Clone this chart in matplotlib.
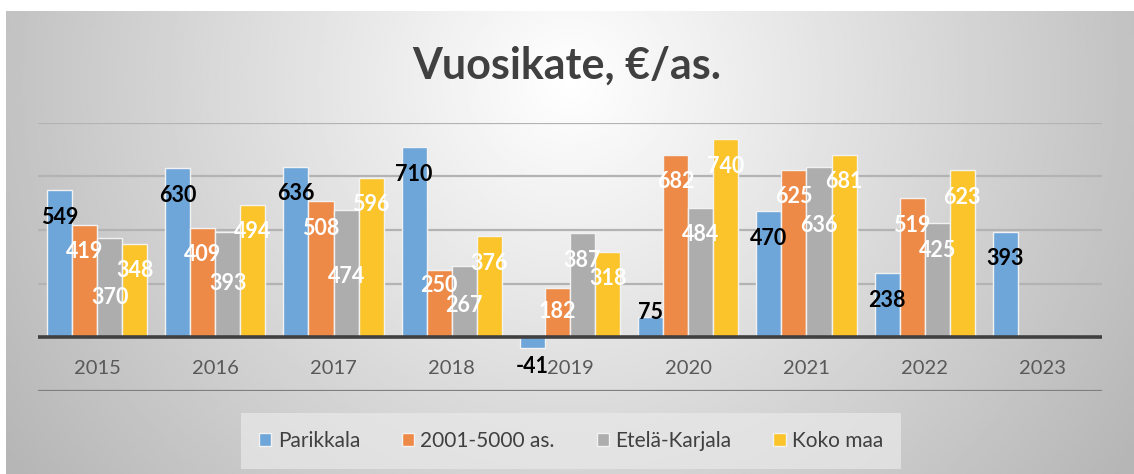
"""Vuosikate, €/as. -- grouped bar chart in an Excel-like style."""

import numpy as np
import matplotlib.pyplot as plt

years = ["2015", "2016", "2017", "2018", "2019", "2020", "2021", "2022", "2023"]
series_names = ["Parikkala", "2001-5000 as.", "Etelä-Karjala", "Koko maa"]
parikkala = [549, 630, 636, 710, -41, 75, 470, 238, 393]
kunnat_2001_5000 = [419, 409, 508, 250, 182, 682, 625, 519, None]
etela_karjala = [370, 393, 474, 267, 387, 484, 636, 425, None]
koko_maa = [348, 494, 596, 376, 318, 740, 681, 623, None]

colors = ["#6EA6D9", "#EE8A47", "#ADADAD", "#FBC42A"]
label_colors = ["black", "white", "white", "white"]

# label drop below the bar end in pixels (default 27), hand-placed ones below
DEFAULT_DROP = 27
drop_override = {
    (0, 4): 19, (0, 5): -4,
    (1, 3): 15, (1, 4): 23,
    (2, 0): 59, (2, 1): 52, (2, 2): 66, (2, 3): 40, (2, 6): 59,
}

W, H, DPI = 1134, 474, 100
fig = plt.figure(figsize=(W / DPI, H / DPI), dpi=DPI, facecolor="white")
plt.rcParams["font.family"] = ["Lato", "DejaVu Sans"]

# --- radial gray background of the chart area ---
bg = fig.add_axes([6 / W, 0, 1 - 6 / W, (H - 11) / H], zorder=0)
gx, gy = np.meshgrid(np.linspace(6, W, 400), np.linspace(11, H, 200))
r = np.sqrt(((gx - 570) / 570) ** 2 + ((gy - 80) / 560) ** 2)
shade = np.clip(1 - 0.24 * np.clip(r, 0, 1.2), 0, 1)
bg.imshow(shade, cmap="gray", vmin=0, vmax=1, aspect="auto",
          extent=[0, 1, 0, 1], origin="upper")
bg.axis("off")

# --- plot area ---
ax = fig.add_axes([38 / W, (H - 390.5) / H, (1102 - 38) / W, (390.5 - 123) / H], zorder=1)
ax.patch.set_alpha(0)
ax.set_ylim(-200, 800)
ax.set_xlim(-0.5, len(years) - 0.5)
for s in ax.spines.values():
    s.set_visible(False)
ax.set_xticks([])
ax.set_yticks([])

for yv in [200, 400, 600, 800]:
    ax.axhline(yv, color="#B3B3B3", lw=1.6, zorder=1)
ax.axhline(-200, color="#7F7F7F", lw=1.6, zorder=1)

x = np.arange(len(years))
bar_w = 0.212
all_series = [parikkala, kunnat_2001_5000, etela_karjala, koko_maa]
for i, (name, vals) in enumerate(zip(series_names, all_series)):
    xs = x + (i - 1.5) * bar_w
    v = np.array([np.nan if a is None else a for a in vals], dtype=float)
    ax.bar(xs, np.nan_to_num(v), width=bar_w, color=colors[i], edgecolor="#F2F2F2",
           linewidth=1.0, zorder=2, label=name)
    for j, val in enumerate(v):
        if np.isnan(val):
            continue
        drop = drop_override.get((i, j), DEFAULT_DROP)
        ax.annotate(f"{int(val)}", xy=(xs[j], val), xytext=(0, -drop * 72 / DPI),
                    textcoords="offset points", ha="center", va="center",
                    fontsize=15.5, fontweight="bold", color=label_colors[i], zorder=5)

ax.axhline(0, color="#404040", lw=2.6, zorder=3)

for j, yr in enumerate(years):
    ax.text(x[j], -116, yr, ha="center", va="center", fontsize=14.5,
            color="#595959", zorder=4)

fig.text(0.5, (H - 66) / H, "Vuosikate, €/as.", ha="center", va="center",
         fontsize=31, fontweight="bold", color="#404040", zorder=5)

leg = fig.legend(loc="center", bbox_to_anchor=(571 / W, (H - 441) / H), ncol=4,
                 frameon=True, fontsize=15, handlelength=0.6, handleheight=0.6,
                 handletextpad=0.3, columnspacing=2.0, borderpad=0.55,
                 labelcolor="#404040")
leg.get_frame().set_facecolor("#E9E9E9")
leg.get_frame().set_alpha(0.7)
leg.get_frame().set_edgecolor("none")
leg.get_frame().set_boxstyle("square")

plt.savefig("out.png", dpi=DPI)
